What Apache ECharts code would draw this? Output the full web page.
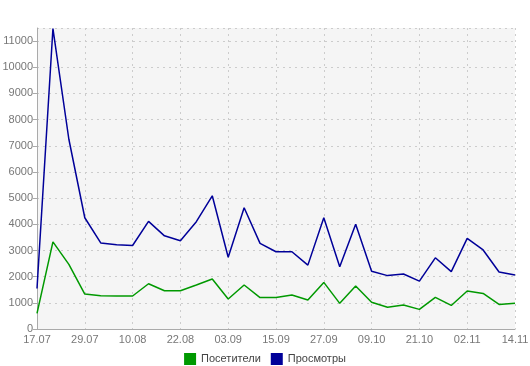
<!DOCTYPE html>
<html><head><meta charset="utf-8">
<script src="https://cdn.jsdelivr.net/npm/echarts@6/dist/echarts.min.js"></script>
<style>html,body{margin:0;padding:0;background:#fff}#c{width:530px;height:366px}</style>
</head><body><div id="c"></div>
<script>
const categories = ["17.07","21.07","25.07","29.07","02.08","06.08","10.08","14.08","18.08","22.08","26.08","30.08","03.09","07.09","11.09","15.09","19.09","23.09","27.09","01.10","05.10","09.10","13.10","17.10","21.10","25.10","29.10","02.11","06.11","10.11","14.11"];
const visitors = [600,3330,2470,1335,1270,1260,1260,1730,1460,1460,1680,1910,1145,1680,1200,1200,1300,1110,1780,980,1640,1020,830,920,750,1210,900,1450,1360,940,980];
const views = [1550,11480,7250,4250,3290,3220,3190,4110,3560,3370,4100,5090,2740,4630,3270,2950,2950,2440,4250,2380,4000,2210,2040,2100,1830,2720,2190,3460,3020,2180,2060];
const seriesNames = ["Посетители","Просмотры"];
const chart = echarts.init(document.getElementById('c'), null, {renderer:'canvas'});
const font = "'Liberation Sans', Arial, sans-serif";
chart.setOption({
  animation:false,
  textStyle:{fontFamily:font},
  grid:{left:37,right:15,top:28,bottom:37,show:true,backgroundColor:'#f5f5f5',borderWidth:0,containLabel:false,outerBoundsMode:'none'},
  legend:{bottom:-4,left:'center',itemWidth:12,itemHeight:12,itemGap:10,icon:'rect',
    textStyle:{fontFamily:font,fontSize:11,color:'#444'},data:seriesNames},
  xAxis:{type:'category',data:categories,boundaryGap:false,
    axisLine:{lineStyle:{color:'#aaa'}},axisTick:{show:false},
    axisLabel:{interval:2,color:'#777',fontSize:11,fontFamily:font,margin:5},
    splitLine:{show:true,interval:2,lineStyle:{color:'#ccc',type:[2,4]}}},
  yAxis:{type:'value',min:0,max:11500,interval:1000,
    axisLine:{show:true,lineStyle:{color:'#aaa'}},axisTick:{show:true,length:4,lineStyle:{color:'#aaa'}},
    axisLabel:{color:'#777',fontSize:11,fontFamily:font,margin:4,showMaxLabel:false,formatter:v=>String(v)},
    splitLine:{show:true,lineStyle:{color:'#ccc',type:[2,4]}}},
  series:[
    {name:seriesNames[0],type:'line',data:visitors,symbol:'none',color:'#009900',lineStyle:{width:1.5,color:'#009900'}},
    {name:seriesNames[1],type:'line',data:views,symbol:'none',color:'#000099',lineStyle:{width:1.5,color:'#000099'}}
  ]
});
</script></body></html>
